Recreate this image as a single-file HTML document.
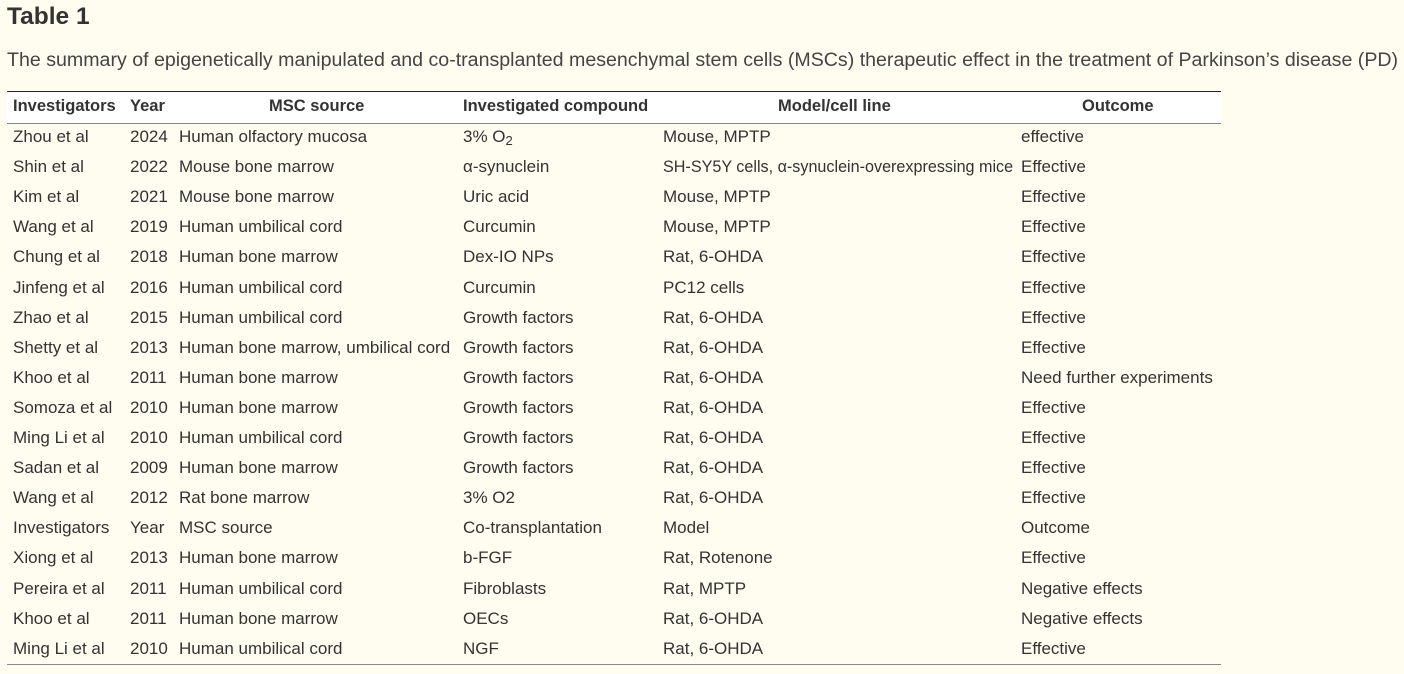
<!DOCTYPE html>
<html><head><meta charset="utf-8"><style>
body{margin:0;width:1404px;height:674px;background:#fffcf0;font-family:"Liberation Sans",sans-serif;color:#333;position:relative;overflow:hidden}
.a{position:absolute;white-space:nowrap;line-height:20px}
.t{font-size:17px}
.h{font-weight:bold;font-size:16.5px}
</style></head><body>
<div class="a" style="left:7px;top:4px;font-size:24.5px;font-weight:bold;line-height:26px;color:#333">Table 1</div>
<div class="a" style="left:7px;top:50px;font-size:19.6px;color:#444">The summary of epigenetically manipulated and co-transplanted mesenchymal stem cells (MSCs) therapeutic effect in the treatment of Parkinson’s disease (PD)</div>
<div style="position:absolute;left:7px;top:91px;width:1214px;height:31px;background:#fff;border-top:1px solid #222;border-bottom:1px solid #888"></div>
<div style="position:absolute;left:7px;top:664px;width:1214px;height:1px;background:#888"></div>
<div class="a h" style="left:13px;top:96px">Investigators</div>
<div class="a h" style="left:130px;top:96px">Year</div>
<div class="a h" style="left:269px;top:96px">MSC source</div>
<div class="a h" style="left:463px;top:96px">Investigated compound</div>
<div class="a h" style="left:778px;top:96px">Model/cell line</div>
<div class="a h" style="left:1082px;top:96px">Outcome</div>
<div id="rows"></div>
<script>
var d=[
["Zhou et al","2024","Human olfactory mucosa","3% O<sub style='font-size:13px;vertical-align:-3px'>2</sub>","Mouse, MPTP","effective"],
["Shin et al","2022","Mouse bone marrow","α-synuclein","<span style='display:inline-block;transform:scaleX(0.95);transform-origin:0 0'>SH-SY5Y cells, α-synuclein-overexpressing mice</span>","Effective"],
["Kim et al","2021","Mouse bone marrow","Uric acid","Mouse, MPTP","Effective"],
["Wang et al","2019","Human umbilical cord","Curcumin","Mouse, MPTP","Effective"],
["Chung et al","2018","Human bone marrow","Dex-IO NPs","Rat, 6-OHDA","Effective"],
["Jinfeng et al","2016","Human umbilical cord","Curcumin","PC12 cells","Effective"],
["Zhao et al","2015","Human umbilical cord","Growth factors","Rat, 6-OHDA","Effective"],
["Shetty et al","2013","Human bone marrow, umbilical cord","Growth factors","Rat, 6-OHDA","Effective"],
["Khoo et al","2011","Human bone marrow","Growth factors","Rat, 6-OHDA","Need further experiments"],
["Somoza et al","2010","Human bone marrow","Growth factors","Rat, 6-OHDA","Effective"],
["Ming Li et al","2010","Human umbilical cord","Growth factors","Rat, 6-OHDA","Effective"],
["Sadan et al","2009","Human bone marrow","Growth factors","Rat, 6-OHDA","Effective"],
["Wang et al","2012","Rat bone marrow","3% O2","Rat, 6-OHDA","Effective"],
["Investigators","Year","MSC source","Co-transplantation","Model","Outcome"],
["Xiong et al","2013","Human bone marrow","b-FGF","Rat, Rotenone","Effective"],
["Pereira et al","2011","Human umbilical cord","Fibroblasts","Rat, MPTP","Negative effects"],
["Khoo et al","2011","Human bone marrow","OECs","Rat, 6-OHDA","Negative effects"],
["Ming Li et al","2010","Human umbilical cord","NGF","Rat, 6-OHDA","Effective"]];
var xs=[13,130,179,463,663,1021],h="";
d.forEach(function(r,i){var y=127+i*30.1;r.forEach(function(c,j){h+='<div class="a t" style="left:'+xs[j]+'px;top:'+y.toFixed(1)+'px">'+c+'</div>';});});
document.getElementById("rows").innerHTML=h;
</script>
</body></html>
